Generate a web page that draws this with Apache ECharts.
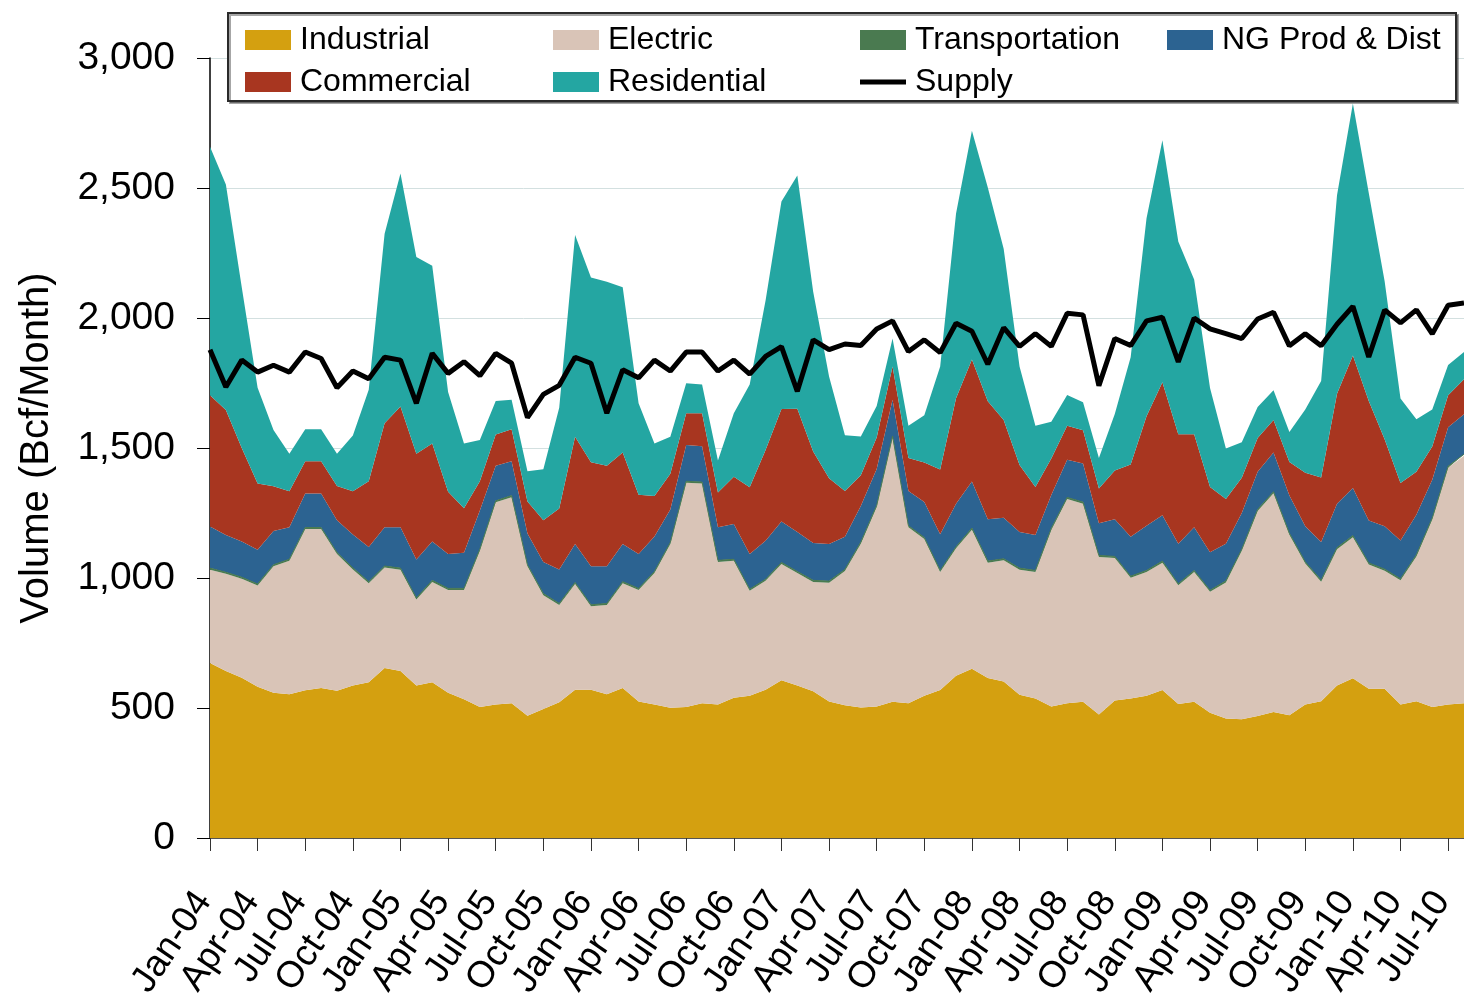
<!DOCTYPE html>
<html>
<head>
<meta charset="utf-8">
<title>Natural gas consumption</title>
<script src="https://cdn.jsdelivr.net/npm/echarts@6/dist/echarts.min.js"></script>
<style>
    html, body { margin: 0; padding: 0; background: #fff; }
    #main { width: 1464px; height: 1004px; }
</style>
</head>
<body>
<div id="main"></div>
<script>
// months Jan-04 .. Aug-10
var months = [
    'Jan-04','Feb-04','Mar-04','Apr-04','May-04','Jun-04','Jul-04','Aug-04','Sep-04','Oct-04','Nov-04','Dec-04',
    'Jan-05','Feb-05','Mar-05','Apr-05','May-05','Jun-05','Jul-05','Aug-05','Sep-05','Oct-05','Nov-05','Dec-05',
    'Jan-06','Feb-06','Mar-06','Apr-06','May-06','Jun-06','Jul-06','Aug-06','Sep-06','Oct-06','Nov-06','Dec-06',
    'Jan-07','Feb-07','Mar-07','Apr-07','May-07','Jun-07','Jul-07','Aug-07','Sep-07','Oct-07','Nov-07','Dec-07',
    'Jan-08','Feb-08','Mar-08','Apr-08','May-08','Jun-08','Jul-08','Aug-08','Sep-08','Oct-08','Nov-08','Dec-08',
    'Jan-09','Feb-09','Mar-09','Apr-09','May-09','Jun-09','Jul-09','Aug-09','Sep-09','Oct-09','Nov-09','Dec-09',
    'Jan-10','Feb-10','Mar-10','Apr-10','May-10','Jun-10','Jul-10','Aug-10'
];

// Bcf/Month
var industrial = [
    673,642,616,582,559,553,568,577,566,587,599,654,
    642,587,599,559,534,504,513,518,470,496,522,570,
    570,553,577,525,513,501,504,518,513,539,547,570,
    607,587,564,525,511,502,506,524,518,547,569,624,
    651,615,602,551,537,506,518,524,475,529,537,547,
    569,515,524,482,460,457,469,485,472,513,526,587,
    614,574,574,513,526,504,513,518
];
var electric = [
    359,374,381,389,486,513,620,611,526,446,381,386,
    390,330,386,395,420,601,778,793,575,438,374,407,
    321,343,403,429,506,630,862,845,549,527,404,419,
    447,432,421,457,516,630,767,1016,677,603,454,490,
    535,444,466,481,486,679,786,762,606,548,464,476,
    490,457,499,465,523,648,789,841,694,543,460,524,
    543,478,454,478,557,721,911,952
];
var transportation = [
    6,6,6,6,6,6,6,6,6,6,6,6,
    6,6,6,6,6,6,6,6,6,6,6,6,
    6,6,6,6,6,6,6,6,6,6,6,6,
    6,6,6,6,6,6,6,6,6,6,6,6,
    6,6,6,6,6,6,6,6,6,6,6,6,
    6,6,6,6,6,6,6,6,6,6,6,6,
    6,6,6,6,6,6,6,6
];
var ngProdDist = [
    160,143,137,132,130,123,131,131,124,128,133,149,
    157,148,149,132,137,149,135,132,120,122,131,148,
    148,143,145,132,135,126,140,138,127,136,135,148,
    157,152,144,143,126,139,140,140,134,136,139,166,
    179,161,158,139,136,128,145,148,124,143,152,172,
    176,154,166,146,143,139,145,151,145,137,146,169,
    183,163,165,147,154,147,150,154
];
var commercial = [
    505,481,360,254,172,139,124,124,132,167,253,400,
    465,407,377,240,171,112,120,123,123,160,234,412,
    400,387,352,228,155,138,122,127,134,181,257,349,
    433,474,352,253,176,118,121,127,127,152,249,405,
    469,454,376,258,185,141,131,128,133,187,278,421,
    512,421,358,251,172,136,129,125,129,206,249,423,
    510,460,335,221,166,128,123,134
];
var residential = [
    956,867,618,369,216,144,123,123,124,214,352,729,
    896,757,684,383,249,159,129,114,117,196,388,776,
    711,707,635,352,202,142,115,110,123,245,395,575,
    798,897,614,391,214,149,122,108,124,182,396,711,
    880,822,658,378,236,141,118,108,118,218,412,762,
    931,741,595,381,194,136,120,114,116,243,371,763,
    969,800,607,325,202,142,116,105
];
var supply = [
    1878,1735,1838,1792,1818,1792,1869,1844,1732,1796,1766,1849,
    1838,1672,1864,1787,1832,1778,1864,1826,1617,1706,1741,1849,
    1826,1634,1801,1770,1838,1796,1869,1869,1796,1838,1784,1852,
    1890,1718,1916,1878,1900,1894,1958,1989,1871,1916,1867,1980,
    1949,1822,1963,1891,1940,1891,2018,2012,1740,1921,1894,1989,
    2003,1831,2000,1958,1940,1921,1996,2022,1893,1939,1893,1976,
    2045,1850,2031,1981,2031,1939,2049,2058
];

var FONT = 'Liberation Sans, Arial, Helvetica, sans-serif';

function areaSeries(name, data, color, lineW) {
    return {
        name: name,
        type: 'line',
        stack: 'total',
        data: data,
        symbol: 'none',
        showSymbol: false,
        lineStyle: { width: lineW || 0, color: color },
        itemStyle: { color: color },
        areaStyle: { color: color, opacity: 1 },
        z: 2
    };
}

// one legend block per column so the columns line up like the original
function legendCol(left, top, names, iconH) {
    return {
        orient: 'vertical',
        left: left,
        top: top,
        padding: 0,
        itemWidth: 46,
        itemHeight: iconH || 20,
        itemGap: 10,
        z: 12,
        selectedMode: false,
        icon: 'rect',
        textStyle: {
            fontFamily: FONT,
            fontSize: 32,
            lineHeight: 32,
            color: '#000',
            padding: [0, 0, 0, 4]
        },
        data: names
    };
}

var myChart = echarts.init(document.getElementById('main'));
var option = {
    backgroundColor: '#fff',
    animation: false,
    grid: { left: 210, right: 0, top: 58, bottom: 166, outerBoundsMode: 'none' },
    graphic: [{
        type: 'rect',
        z: 10,
        shape: { x: 228, y: 13, width: 1228, height: 88 },
        style: {
            fill: '#fff',
            stroke: '#2a2a2a',
            lineWidth: 2,
            shadowColor: 'rgba(0,0,0,0.35)',
            shadowOffsetX: 2,
            shadowOffsetY: 2
        }
    }],
    legend: [
        legendCol(245, 24, ['Industrial', 'Commercial']),
        legendCol(553, 24, ['Electric', 'Residential']),
        legendCol(860, 24, ['Transportation']),
        legendCol(860, 66, ['Supply'], 5),
        legendCol(1167, 24, ['NG Prod & Dist'])
    ],
    xAxis: {
        type: 'category',
        data: months,
        boundaryGap: false,
        axisLine: { lineStyle: { color: '#555', width: 2 } },
        axisTick: { interval: 2, length: 13, lineStyle: { color: '#333', width: 1 } },
        axisLabel: {
            interval: 2,
            rotate: 56,
            margin: 48,
            padding: [0, 11, 0, 0],
            fontFamily: FONT,
            fontSize: 37,
            color: '#000'
        },
        splitLine: { show: false }
    },
    yAxis: {
        type: 'value',
        min: 0,
        max: 3000,
        interval: 500,
        name: 'Volume (Bcf/Month)',
        nameLocation: 'middle',
        nameGap: 153,
        nameTextStyle: { fontFamily: FONT, fontSize: 40, color: '#000' },
        axisLine: { show: true, lineStyle: { color: '#000', width: 1.5 } },
        axisTick: { show: true, length: 13, lineStyle: { color: '#000', width: 1 } },
        axisLabel: {
            margin: 35,
            fontFamily: FONT,
            fontSize: 39,
            color: '#000',
            formatter: function (v) {
                return v.toString().replace(/\B(?=(\d{3})+(?!\d))/g, ',');
            }
        },
        splitLine: { show: true, lineStyle: { color: '#D3E0E0', width: 1 } }
    },
    series: [
        areaSeries('Industrial', industrial, '#D4A010'),
        areaSeries('Electric', electric, '#D9C4B7'),
        areaSeries('Transportation', transportation, '#4A7A50', 1),
        areaSeries('NG Prod & Dist', ngProdDist, '#2C6391'),
        areaSeries('Commercial', commercial, '#A83620'),
        areaSeries('Residential', residential, '#24A6A2'),
        {
            name: 'Supply',
            type: 'line',
            data: supply,
            symbol: 'none',
            showSymbol: false,
            itemStyle: { color: '#000' },
            lineStyle: { color: '#000', width: 5 },
            z: 5
        }
    ]
};
myChart.setOption(option);
</script>
</body>
</html>
